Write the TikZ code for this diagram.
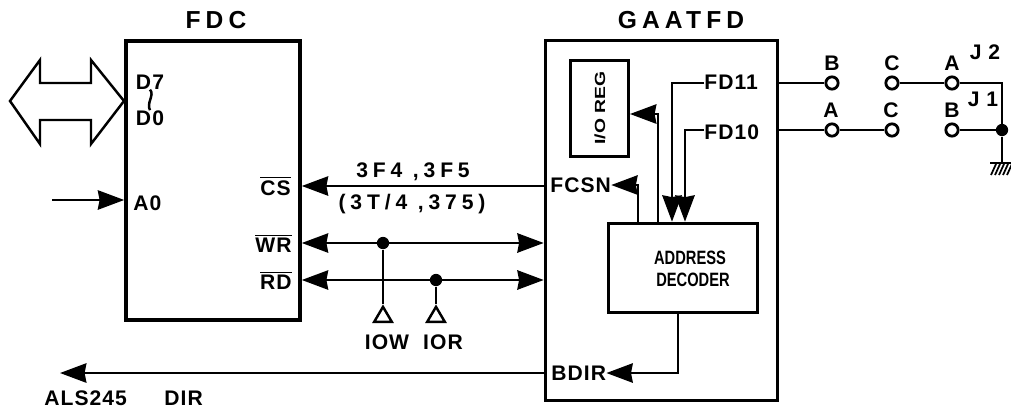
\documentclass[tikz,border=0pt]{standalone}
\usepackage{fontspec}
\setmainfont{Liberation Sans}
\usetikzlibrary{arrows.meta,shapes.geometric}
\tikzset{
  txt/.style={font=\fontsize{12}{13}\selectfont\bfseries\addfontfeature{LetterSpace=5}, inner sep=0pt},
  wide/.style={font=\fontsize{12}{13}\selectfont\bfseries\addfontfeature{LetterSpace=23}, inner sep=0pt},
  title/.style={font=\fontsize{14}{15}\selectfont\bfseries\addfontfeature{LetterSpace=21}, inner sep=0pt},
  small/.style={font=\fontsize{11}{13}\selectfont\bfseries, inner sep=0pt, xscale=0.76},
  box/.style={draw, line width=2.1pt, inner sep=0pt},
  inbox/.style={draw, line width=1.7pt, inner sep=0pt},
  wire/.style={line width=1.4pt},
  head/.style={wire, -{Stealth[length=15pt,width=11pt,inset=1pt]}},
  both/.style={wire, {Stealth[length=15pt,width=11pt,inset=1pt]}-{Stealth[length=15pt,width=11pt,inset=1pt]}},
  pin/.style={circle, draw, line width=1.6pt, fill=white, minimum size=7pt, inner sep=0pt},
  dot/.style={circle, fill, minimum size=7pt, inner sep=0pt},
  buf/.style={isosceles triangle, isosceles triangle stretches, shape border rotate=90, draw, line width=1.4pt, minimum width=10pt, minimum height=8.5pt, inner sep=0pt}
}
\begin{document}
\begin{tikzpicture}[x=0.02cm,y=-0.02cm]
\useasboundingbox (0,0) rectangle (1011,410);
% blocks
\node[box, minimum width=99pt, minimum height=159pt] (fdc) at (213,180.5) {};
\node[box, minimum width=132pt, minimum height=205pt] (gaatfd) at (661.5,220.5) {};
\node[inbox, minimum width=33pt, minimum height=55pt] (ioreg) at (599.5,108.5) {};
\node[inbox, minimum width=85pt, minimum height=51pt] (decoder) at (683,268) {};
\node[title] (fdcname) at (216,20) {FDC};
\node[title] (gaatname) at (681,20) {GAATFD};
\node[small, rotate=90] (iotext) at (600,108) {I/O REG};
\node[small] (addr) at (690,258) {ADDRESS};
\node[small] (dec) at (693,280) {DECODER};
% bus and pins of FDC
\draw[wire] (124,101) -- (91,60) -- (91,83) -- (40,83) -- (40,60) -- (10,101) -- (40,144) -- (40,120) -- (91,120) -- (91,144) -- cycle;
\node[txt] (d7) at (150,82) {D7};
\node[txt] (d0) at (150,118) {D0};
\draw[wire] (d7.south) .. controls (155,95) and (146,103) .. (d0.north);
\node[txt, anchor=west] (a0) at (133,203) {A0};
\coordinate (a0in) at (52,200);
\draw[head] (a0in) -- (fdc.west |- a0in);
\node[txt, anchor=east] (cs) at (291,186) {$\overline{\mbox{CS}}$};
\node[txt, anchor=east] (wr) at (292,243) {$\overline{\mbox{WR}}$};
\node[txt, anchor=east] (rd) at (292,280) {$\overline{\mbox{RD}}$};
\coordinate (csy) at (400,186);
\coordinate (wry) at (400,243);
\coordinate (rdy) at (400,280);
\draw[head] (gaatfd.west |- csy) -- (fdc.east |- csy);
\draw[both] (fdc.east |- wry) -- (gaatfd.west |- wry);
\draw[both] (fdc.east |- rdy) -- (gaatfd.west |- rdy);
\node[wide] (addra) at (413,172) {3F4 ,3F5};
\node[wide] (addrb) at (412,204) {(3T/4 ,375)};
% IOW and IOR
\node[dot] (wrdot) at (383,243) {};
\node[dot] (rddot) at (436,280) {};
\node[buf, anchor=south] (iowbuf) at (383,323) {};
\node[buf, anchor=south] (iorbuf) at (436,323) {};
\draw[wire] (wrdot) -- (iowbuf.apex);
\draw[wire] (rddot) -- (iorbuf.apex);
\node[txt] (iow) at (387,342) {IOW};
\node[txt] (ior) at (443,342) {IOR};
% inside GAATFD
\node[txt, anchor=west] (fcsn) at (550,185) {FCSN};
\node[txt, anchor=west] (bdir) at (551,373) {BDIR};
\node[txt, anchor=west] (fd11) at (704,82) {FD11};
\node[txt, anchor=west] (fd10) at (704,132) {FD10};
\coordinate (fcsnup) at (638,185);
\coordinate (regup) at (658,114);
\coordinate (fd11up) at (672,83);
\coordinate (fd10up) at (685,130);
\draw[head] (decoder.north -| fcsnup) -- (fcsnup) -- (fcsn.east);
\draw[head] (decoder.north -| regup) -- (regup) -- (ioreg.east |- regup);
\draw[head] (fd11.west |- fd11up) -- (fd11up) -- (decoder.north -| fd11up);
\draw[head] (fd10.west |- fd10up) -- (fd10up) -- (decoder.north -| fd10up);
\coordinate (bdirup) at (678,373);
\draw[head] (decoder.south -| bdirup) -- (bdirup) -- (bdir.east);
\coordinate (dirout) at (60,373);
\draw[head] (gaatfd.west |- dirout) -- (dirout);
\node[txt, anchor=west] (dirname) at (44,398) {ALS245};
\node[txt, anchor=west] (dirname2) at (164,398) {DIR};
% jumpers
\node[pin] (b1) at (832,83) {};
\node[pin] (c1) at (892,83) {};
\node[pin] (a1) at (952,83) {};
\node[pin] (a2) at (832,130) {};
\node[pin] (c2) at (892,130) {};
\node[pin] (b2) at (952,130) {};
\node[dot] (gnddot) at (1002,130) {};
\coordinate (corner) at (1002,83);
\coordinate (gnd) at (1002,163);
\draw[wire] (gaatfd.east |- b1) -- (b1);
\draw[wire] (gaatfd.east |- a2) -- (a2) -- (c2);
\draw[wire] (c1) -- (a1) -- (corner) -- (gnddot) -- (gnd);
\draw[wire] (b2) -- (gnddot);
\draw[wire] (990,163) -- (1011,163);
\foreach \x in {996,1000,1004,1008,1012}
  \draw[line width=1pt] (\x,164) -- ++(-5,11);
\node[txt] (lb1) at (832,63) {B};
\node[txt] (lc1) at (892,63) {C};
\node[txt] (la1) at (952,63) {A};
\node[txt] (la2) at (831,110) {A};
\node[txt] (lc2) at (891,110) {C};
\node[txt] (lb2) at (952,110) {B};
\node[txt] (j2) at (985,52) {J 2};
\node[txt] (j1) at (983,99) {J 1};
\end{tikzpicture}
\end{document}
